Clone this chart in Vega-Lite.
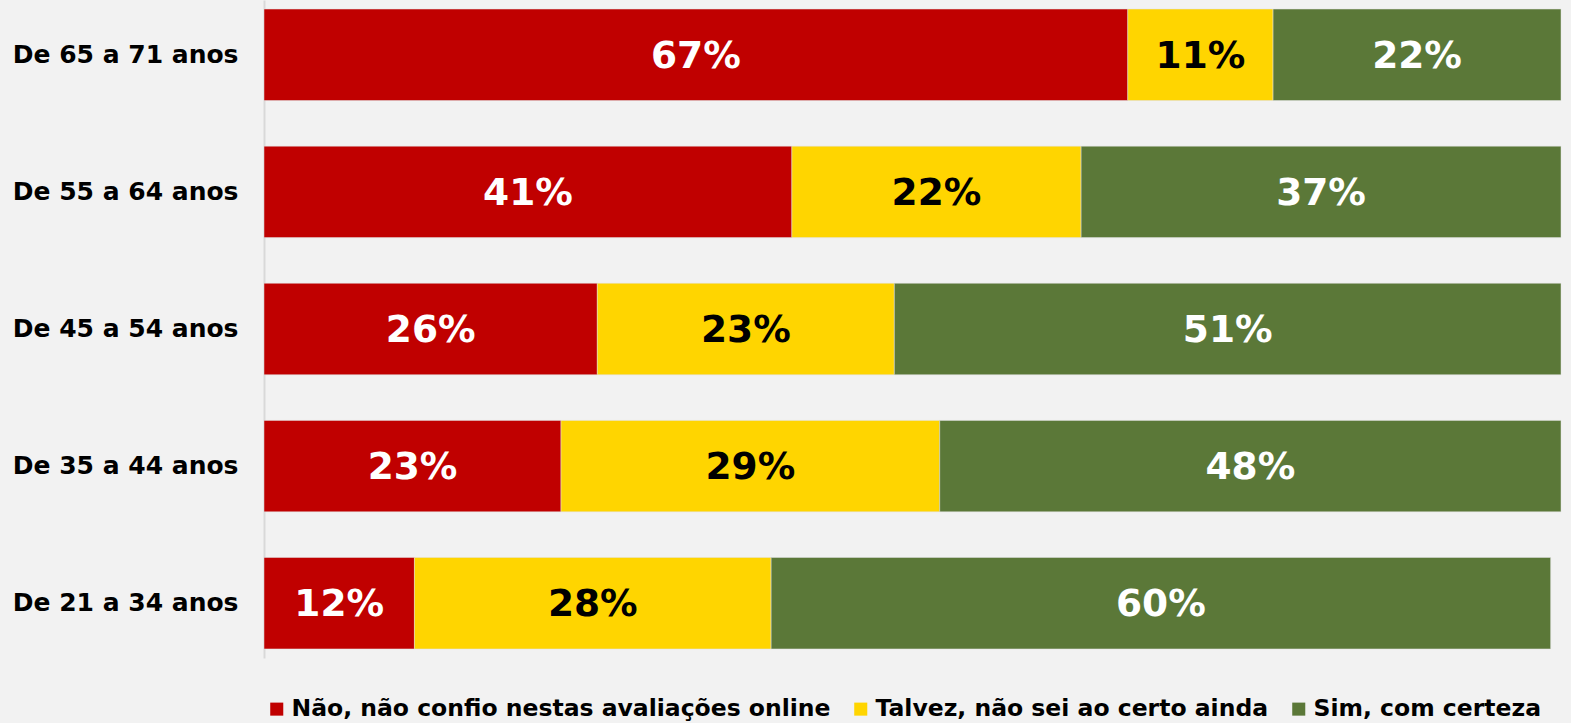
{
  "$schema": "https://vega.github.io/schema/vega-lite/v6.json",
  "width": 1297,
  "height": 658,
  "autosize": {"type": "none"},
  "padding": {"left": 264, "top": 0, "right": 10, "bottom": 65},
  "background": "#f2f2f2",
  "config": {
    "view": {"stroke": null},
    "font": "DejaVu Sans"
  },
  "data": {
    "values": [
      {"idade": "De 65 a 71 anos", "resposta": "Não, não confio nestas avaliações online", "ord": 1, "valor": 0.666},
      {"idade": "De 65 a 71 anos", "resposta": "Talvez, não sei ao certo ainda", "ord": 2, "valor": 0.112},
      {"idade": "De 65 a 71 anos", "resposta": "Sim, com certeza", "ord": 3, "valor": 0.222},
      {"idade": "De 55 a 64 anos", "resposta": "Não, não confio nestas avaliações online", "ord": 1, "valor": 0.407},
      {"idade": "De 55 a 64 anos", "resposta": "Talvez, não sei ao certo ainda", "ord": 2, "valor": 0.223},
      {"idade": "De 55 a 64 anos", "resposta": "Sim, com certeza", "ord": 3, "valor": 0.370},
      {"idade": "De 45 a 54 anos", "resposta": "Não, não confio nestas avaliações online", "ord": 1, "valor": 0.257},
      {"idade": "De 45 a 54 anos", "resposta": "Talvez, não sei ao certo ainda", "ord": 2, "valor": 0.229},
      {"idade": "De 45 a 54 anos", "resposta": "Sim, com certeza", "ord": 3, "valor": 0.514},
      {"idade": "De 35 a 44 anos", "resposta": "Não, não confio nestas avaliações online", "ord": 1, "valor": 0.229},
      {"idade": "De 35 a 44 anos", "resposta": "Talvez, não sei ao certo ainda", "ord": 2, "valor": 0.292},
      {"idade": "De 35 a 44 anos", "resposta": "Sim, com certeza", "ord": 3, "valor": 0.479},
      {"idade": "De 21 a 34 anos", "resposta": "Não, não confio nestas avaliações online", "ord": 1, "valor": 0.116},
      {"idade": "De 21 a 34 anos", "resposta": "Talvez, não sei ao certo ainda", "ord": 2, "valor": 0.275},
      {"idade": "De 21 a 34 anos", "resposta": "Sim, com certeza", "ord": 3, "valor": 0.601}
    ]
  },
  "transform": [
    {"stack": "valor", "groupby": ["idade"], "sort": [{"field": "ord", "order": "ascending"}], "as": ["v0", "v1"]}
  ],
  "encoding": {
    "y": {
      "field": "idade",
      "type": "nominal",
      "sort": ["De 65 a 71 anos", "De 55 a 64 anos", "De 45 a 54 anos", "De 35 a 44 anos", "De 21 a 34 anos"],
      "scale": {"paddingInner": 0.333, "paddingOuter": 0.066},
      "axis": {
        "title": null,
        "ticks": false,
        "domainColor": "#d9d9d9",
        "domainWidth": 2,
        "labelFont": "DejaVu Sans",
        "labelFontWeight": "bold",
        "labelFontSize": 25,
        "labelColor": "#000000",
        "labelPadding": 26,
        "labelLimit": 400
      }
    }
  },
  "layer": [
    {
      "mark": {"type": "bar", "stroke": "#e0e0e0", "strokeWidth": 0.5},
      "encoding": {
        "x": {
          "field": "v0",
          "type": "quantitative",
          "scale": {"domain": [0, 1], "nice": false, "zero": true},
          "axis": null
        },
        "x2": {"field": "v1"},
        "color": {
          "field": "resposta",
          "type": "nominal",
          "scale": {
            "domain": ["Não, não confio nestas avaliações online", "Talvez, não sei ao certo ainda", "Sim, com certeza"],
            "range": ["#c00000", "#ffd500", "#5b7838"]
          },
          "legend": {
            "title": null,
            "orient": "none",
            "legendX": 1,
            "legendY": 697,
            "direction": "horizontal",
            "symbolType": "square",
            "symbolSize": 170,
            "symbolStrokeWidth": 0,
            "labelFont": "DejaVu Sans",
            "labelFontWeight": "bold",
            "labelFontSize": 23.5,
            "labelColor": "#000000",
            "labelOffset": 3,
            "labelLimit": 800,
            "columnPadding": 18
          }
        }
      }
    },
    {
      "transform": [{"calculate": "(datum.v0 + datum.v1) / 2", "as": "meio"}],
      "mark": {"type": "text", "font": "DejaVu Sans", "fontWeight": "bold", "fontSize": 37.5, "align": "center", "baseline": "middle", "dy": 2},
      "encoding": {
        "x": {"field": "meio", "type": "quantitative", "scale": {"domain": [0, 1], "nice": false, "zero": true}, "axis": null},
        "text": {"field": "valor", "type": "quantitative", "format": ".0%"},
        "color": {
          "condition": {"test": "datum.ord == 2", "value": "#000000"},
          "value": "#ffffff"
        }
      }
    }
  ]
}
